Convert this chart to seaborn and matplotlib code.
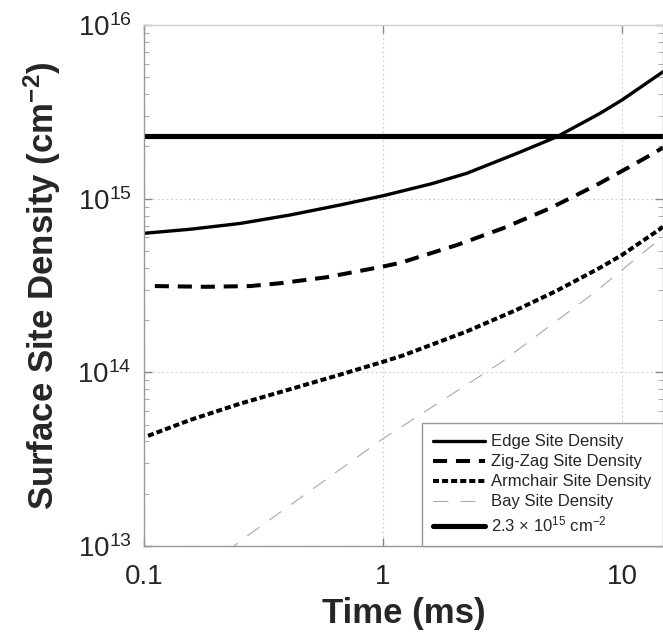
import numpy as np
import pandas as pd
import matplotlib
matplotlib.use('Agg')
import matplotlib.pyplot as plt
import seaborn as sns

# --- Data --- #
edge_t = [0.1, 0.156, 0.252, 0.409, 0.661, 1.0, 1.18, 1.6, 2.24, 3.62, 5.33, 8.09, 10.0, 14.85]
edge_n = [6.32e14, 6.67e14, 7.2e14, 8.06e14, 9.2e14, 1.04e15, 1.1e15, 1.22e15, 1.4e15,
          1.82e15, 2.27e15, 3.1e15, 3.7e15, 5.38e15]

zigzag_t = [0.111, 0.183, 0.278, 0.371, 0.581, 1.0, 1.18, 2.03, 3.18, 5.0, 7.83, 10.8, 13.5, 14.85]
zigzag_n = [3.14e14, 3.11e14, 3.14e14, 3.26e14, 3.53e14, 4.07e14, 4.27e14, 5.4e14, 6.76e14,
            8.81e14, 1.2e15, 1.53e15, 1.82e15, 1.97e15]

armchair_t = [0.104, 0.156, 0.252, 0.409, 0.661, 1.0, 1.21, 2.24, 3.62, 5.33, 8.09, 10.0, 14.4, 14.85]
armchair_n = [4.31e13, 5.32e13, 6.6e13, 8.0e13, 9.7e13, 1.15e14, 1.25e14, 1.72e14, 2.29e14,
              2.95e14, 4.0e14, 4.74e14, 6.67e14, 6.9e14]

bay_t = [0.22, 0.267, 1.0, 1.27, 3.09, 7.59, 12.9, 14.85]
bay_n = [9.2e12, 1.13e13, 4.15e13, 5.13e13, 1.13e14, 2.85e14, 5.17e14, 6.0e14]

ref_density = 2.3e15

labels = ['Edge Site Density', 'Zig-Zag Site Density', 'Armchair Site Density',
          'Bay Site Density', r'2.3 $\times$ 10$^{15}$ cm$^{-2}$']

xlim = (0.1, 14.85)
ylim = (1e13, 1e16)

# --- Style --- #
sns.set_style('ticks')
plt.rcParams['font.family'] = ['Liberation Sans', 'DejaVu Sans']
plt.rcParams['mathtext.fontset'] = 'custom'
plt.rcParams['mathtext.rm'] = 'Liberation Sans'
plt.rcParams['mathtext.bf'] = 'Liberation Sans:bold'
plt.rcParams['mathtext.it'] = 'Liberation Sans:italic'

fig = plt.figure(figsize=(6.63, 6.39), dpi=100)
ax = fig.add_axes([0.2172, 0.1455, 0.7828, 0.8153])

edge_df = pd.DataFrame({'t': edge_t, 'n': edge_n})
zz_df = pd.DataFrame({'t': zigzag_t, 'n': zigzag_n})
ac_df = pd.DataFrame({'t': armchair_t, 'n': armchair_n})
bay_df = pd.DataFrame({'t': bay_t, 'n': bay_n})

sns.lineplot(data=edge_df, x='t', y='n', ax=ax, color='black', lw=2.4, label=labels[0])
sns.lineplot(data=zz_df, x='t', y='n', ax=ax, color='black', lw=2.9, label=labels[1])
ax.lines[-1].set_dashes((3.5, 2.2))
sns.lineplot(data=ac_df, x='t', y='n', ax=ax, color='black', lw=2.9, label=labels[2])
ax.lines[-1].set_dashes((1.5, 0.75))
sns.lineplot(data=bay_df, x='t', y='n', ax=ax, color='#a8a8a8', lw=0.8, label=labels[3])
ax.lines[-1].set_dashes((13.5, 10.8))
ax.axhline(ref_density, color='black', lw=3.7, label=labels[4])

ax.set_xscale('log')
ax.set_yscale('log')
ax.set_xlim(*xlim)
ax.set_ylim(*ylim)

ax.set_xticks([0.1, 1, 10])
ax.set_xticklabels(['0.1', '1', '10'])
ax.set_yticks([1e13, 1e14, 1e15, 1e16])
ax.set_yticklabels([r'10$^{13}$', r'10$^{14}$', r'10$^{15}$', r'10$^{16}$'])
ax.tick_params(axis='both', which='major', labelsize=20, direction='in',
               length=6, color='#888888', width=1.0)
ax.tick_params(axis='x', which='major', pad=13, top=True)
ax.tick_params(axis='y', which='major', pad=9)
ax.tick_params(axis='both', which='minor', direction='in', length=3.5, color='#999999')
ax.tick_params(axis='y', which='both', right=True)
ax.tick_params(axis='x', which='minor', bottom=False, top=False)

ax.grid(True, which='major', color='#cccccc', ls=(0, (1.5, 2.5)), lw=0.8)
for name, s in ax.spines.items():
    s.set_color('#999999')
    s.set_linewidth(1.0)
ax.spines['top'].set_color('#cfcfcf')

ax.set_xlabel('Time (ms)', fontsize=25, fontweight='bold', labelpad=5)
ax.set_ylabel(r'Surface Site Density (cm$^{\mathbf{-2}}$)', fontsize=25,
              fontweight='bold', labelpad=10)

leg = ax.legend(loc='lower right', fontsize=12, frameon=True, fancybox=False,
                framealpha=1, edgecolor='#999999', handlelength=3.1,
                borderaxespad=0.0, labelspacing=0.3, handletextpad=0.35,
                borderpad=0.7)
leg.get_frame().set_linewidth(1.0)

fig.savefig('out.png', dpi=100)
